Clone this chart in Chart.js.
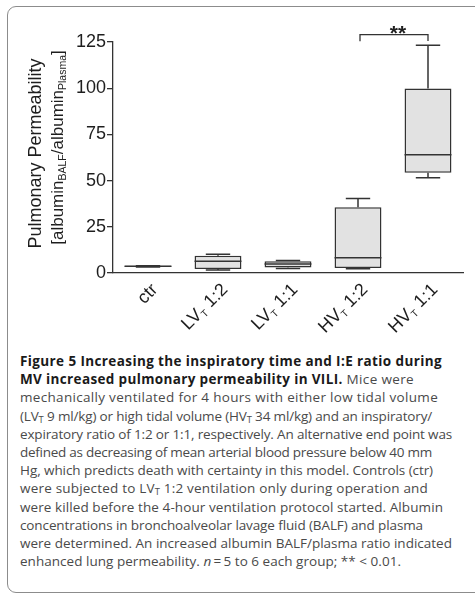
<!DOCTYPE html>
<html>
<head>
<meta charset="utf-8">
<script src="https://cdn.jsdelivr.net/npm/chart.js@4.4.1/dist/chart.umd.min.js"></script>
<style>
  html, body { margin: 0; padding: 0; background: #fff; }
  body { width: 475px; height: 596px; overflow: hidden; position: relative; }
  .frame {
    position: absolute; left: 7px; top: 6px; width: 490px; height: 587px;
    border: 1px solid #8c8c8c; border-radius: 9px; box-sizing: border-box;
  }
  #chart { position: absolute; left: 0; top: 0; }
  .caption {
    position: absolute; left: 20px; top: 352px;
    font-family: "Open Sans", "Noto Sans", sans-serif;
    font-size: 13.5px; line-height: 18.2px; color: #4a4a4a;
    white-space: nowrap;
  }
  .caption .ln { display: block; height: 18.2px; }
  .caption b { color: #1a1a1a; }
  .caption sub { font-size: 0.7em; vertical-align: -0.25em; line-height: 0; }
</style>
</head>
<body>
<div class="frame"></div>
<canvas id="chart" width="475" height="340"></canvas>
<div class="caption">
<span class="ln" data-end="442"><b>Figure 5 Increasing the inspiratory time and I:E ratio during</b></span>
<span class="ln" data-end="414"><b>MV increased pulmonary permeability in VILI.</b> Mice were</span>
<span class="ln" data-end="438">mechanically ventilated for 4 hours with either low tidal volume</span>
<span class="ln" data-end="432">(LV<sub>T</sub> 9 ml/kg) or high tidal volume (HV<sub>T</sub> 34 ml/kg) and an inspiratory/</span>
<span class="ln" data-end="452">expiratory ratio of 1:2 or 1:1, respectively. An alternative end point was</span>
<span class="ln" data-end="432">defined as decreasing of mean arterial blood pressure below 40 mm</span>
<span class="ln" data-end="433">Hg, which predicts death with certainty in this model. Controls (ctr)</span>
<span class="ln" data-end="428">were subjected to LV<sub>T</sub> 1:2 ventilation only during operation and</span>
<span class="ln" data-end="443">were killed before the 4-hour ventilation protocol started. Albumin</span>
<span class="ln" data-end="423">concentrations in bronchoalveolar lavage fluid (BALF) and plasma</span>
<span class="ln" data-end="452">were determined. An increased albumin BALF/plasma ratio indicated</span>
<span class="ln" data-end="401">enhanced lung permeability. <i>n</i>&#8201;=&#8201;5 to 6 each group; ** &lt; 0.01.</span>
</div>
<script>
// Groups; "_X" marks a subscript character in a label
const categories = ['ctr', 'LV_T 1:2', 'LV_T 1:1', 'HV_T 1:2', 'HV_T 1:1'];

// Box-and-whisker statistics per group
const whiskerMin = [3.3, 1.6, 2.5, 2.3, 51.6];
const quartile1  = [3.3, 2.2, 3.0, 2.7, 54.3];
const medians    = [3.6, 6.3, 4.9, 8.3, 64.0];
const quartile3  = [3.9, 9.3, 6.3, 35.6, 99.8];
const whiskerMax = [3.9, 10.2, 6.8, 40.3, 123.2];

// Y-axis ticks (minor ticks every 12.5, labelled every 25)
const yTickStep = 12.5;
const yLabelStep = 25;
const yMax = 125;

// Significance comparison between two groups
const sigGroups = [3, 4];
const sigLabel = '**';
const sigLevel = 129;

const yTitleLine1 = 'Pulmonary Permeability';
const yTitleLine2 = '[albumin_{BALF}/albumin_{Plasma}]';

const INK = '#333333';
const FONT = '"Liberation Sans", Arial, Helvetica, sans-serif';

// Justify each caption line to its measured right edge
function fitCaption() {
  document.querySelectorAll('.caption .ln').forEach(el => {
    el.style.letterSpacing = '0px';
    const range = document.createRange();
    range.selectNodeContents(el);
    const r = range.getBoundingClientRect();
    const chars = el.textContent.length;
    const target = parseFloat(el.dataset.end);
    const ls = (target - r.right) / chars;
    el.style.letterSpacing = ls.toFixed(3) + 'px';
  });
}
fitCaption();
if (document.fonts && document.fonts.ready) document.fonts.ready.then(fitCaption);

// Split text into plain / subscript runs: "_X" or "_{XYZ}"
function parseRuns(str) {
  const runs = [];
  let i = 0, buf = '';
  while (i < str.length) {
    if (str[i] === '_') {
      if (buf) { runs.push({ t: buf, sub: false }); buf = ''; }
      if (str[i + 1] === '{') {
        const end = str.indexOf('}', i + 2);
        runs.push({ t: str.slice(i + 2, end), sub: true });
        i = end + 1;
      } else {
        runs.push({ t: str[i + 1], sub: true });
        i += 2;
      }
    } else { buf += str[i]; i++; }
  }
  if (buf) runs.push({ t: buf, sub: false });
  return runs;
}

function runsWidth(ctx, runs, size, subSize) {
  let w = 0;
  runs.forEach(r => {
    ctx.font = (r.sub ? subSize : size) + 'px ' + FONT;
    w += ctx.measureText(r.t).width;
  });
  return w;
}

// Draw runs starting at local x0, vertical middle at y=0
function drawRuns(ctx, runs, x0, size, subSize, subDrop) {
  let x = x0;
  runs.forEach(r => {
    ctx.font = (r.sub ? subSize : size) + 'px ' + FONT;
    ctx.fillText(r.t, x, r.sub ? subDrop : 0);
    x += ctx.measureText(r.t).width;
  });
}

const boxPlotPlugin = {
  id: 'boxWhiskers',
  afterDatasetsDraw(chart) {
    const ctx = chart.ctx;
    const xs = chart.scales.x, ys = chart.scales.y;
    const meta = chart.getDatasetMeta(0);
    ctx.save();
    ctx.strokeStyle = INK;
    ctx.lineWidth = 1.5;
    categories.forEach((c, i) => {
      const x = xs.getPixelForValue(i);
      const bw = meta.data[i].width;
      const capHalf = bw * 0.26;
      const yMin = ys.getPixelForValue(whiskerMin[i]);
      const yQ1 = ys.getPixelForValue(quartile1[i]);
      const yQ3 = ys.getPixelForValue(quartile3[i]);
      const yTop = ys.getPixelForValue(whiskerMax[i]);
      const yMed = ys.getPixelForValue(medians[i]);
      ctx.beginPath();
      // upper whisker
      ctx.moveTo(x, yQ3); ctx.lineTo(x, yTop);
      ctx.moveTo(x - capHalf, yTop); ctx.lineTo(x + capHalf, yTop);
      // lower whisker
      ctx.moveTo(x, yQ1); ctx.lineTo(x, yMin);
      ctx.moveTo(x - capHalf, yMin); ctx.lineTo(x + capHalf, yMin);
      // median
      ctx.moveTo(x - bw / 2, yMed); ctx.lineTo(x + bw / 2, yMed);
      ctx.stroke();
    });
    ctx.restore();
  },
  afterDraw(chart) {
    const ctx = chart.ctx;
    const xs = chart.scales.x, ys = chart.scales.y;
    ctx.save();
    ctx.fillStyle = '#1e1e1e';
    ctx.textBaseline = 'middle';

    // rotated category labels
    const size = 18, subSize = 10;
    categories.forEach((c, i) => {
      const runs = parseRuns(c);
      const x = xs.getPixelForValue(i);
      const w = runsWidth(ctx, runs, size, subSize);
      ctx.save();
      ctx.translate(x + 7, xs.top + 14);
      ctx.rotate(-Math.PI / 4);
      ctx.textAlign = 'left';
      drawRuns(ctx, runs, -w, size, subSize, 5);
      ctx.restore();
    });

    // y-axis title (two lines)
    const midY = (chart.chartArea.top + chart.chartArea.bottom) / 2;
    [[yTitleLine1, 36, midY - 4, 18, 11], [yTitleLine2, 58, midY - 10, 17, 10.5]].forEach(([txt, lx, cy, s, ss]) => {
      const runs = parseRuns(txt);
      const w = runsWidth(ctx, runs, s, ss);
      ctx.save();
      ctx.translate(lx, cy);
      ctx.rotate(-Math.PI / 2);
      ctx.textAlign = 'left';
      drawRuns(ctx, runs, -w / 2, s, ss, 5);
      ctx.restore();
    });

    // significance bracket
    const x1 = xs.getPixelForValue(sigGroups[0]) + 2;
    const x2 = xs.getPixelForValue(sigGroups[1]);
    const yb = ys.getPixelForValue(sigLevel);
    const legLeft = ys.getPixelForValue(sigLevel - 3.6);
    const legRight = ys.getPixelForValue(sigLevel - 3.4);
    ctx.strokeStyle = INK;
    ctx.lineWidth = 1.3;
    ctx.beginPath();
    ctx.moveTo(x1, legLeft); ctx.lineTo(x1, yb); ctx.lineTo(x2, yb); ctx.lineTo(x2, legRight);
    ctx.stroke();
    ctx.font = 'bold 21px ' + FONT;
    ctx.textAlign = 'center';
    ctx.textBaseline = 'alphabetic';
    ctx.fillText(sigLabel, (x1 + x2) / 2 + 4, yb + 5);
    ctx.restore();
  }
};

const boxes = categories.map((c, i) => [quartile1[i], quartile3[i]]);

new Chart(document.getElementById('chart'), {
  type: 'bar',
  data: {
    labels: categories,
    datasets: [{
      data: boxes,
      backgroundColor: '#e2e2e2',
      borderColor: INK,
      borderWidth: 1.5,
      borderSkipped: false,
      categoryPercentage: 1,
      barPercentage: 0.67
    }]
  },
  options: {
    responsive: false,
    animation: false,
    layout: { padding: { left: 75, right: 12, top: 42, bottom: 0 } },
    plugins: { legend: { display: false }, tooltip: { enabled: false } },
    scales: {
      x: {
        offset: true,
        grid: { display: false, drawTicks: false },
        border: { display: true, color: INK, width: 1.3 },
        ticks: { display: false },
        afterFit(scale) { scale.height = 67; }
      },
      y: {
        min: 0, max: yMax,
        grid: { drawOnChartArea: false, drawTicks: true, tickLength: 6, color: INK, lineWidth: 1.3 },
        border: { display: true, color: INK, width: 1.3 },
        ticks: {
          stepSize: yTickStep,
          padding: 1,
          color: '#1e1e1e',
          font: { family: FONT, size: 18 },
          callback: v => (v % yLabelStep === 0 ? String(v) : '')
        },
        afterFit(scale) { scale.width = 38; }
      }
    }
  },
  plugins: [boxPlotPlugin]
});
</script>
</body>
</html>
